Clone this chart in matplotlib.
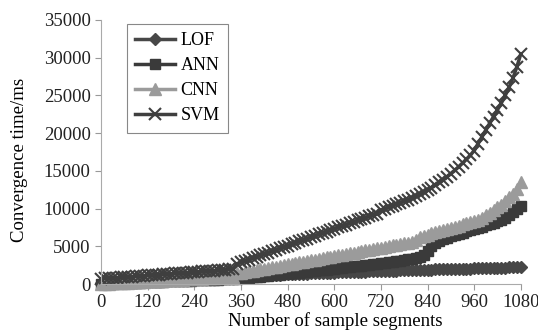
import matplotlib.pyplot as plt

# sample segments 0..1080, step 10
segments = list(range(0, 1090, 10))

lof = [150, 175, 200, 225, 250, 275, 300, 325, 350, 375, 400, 425, 450,
       475, 500, 525, 550, 575, 600, 625, 650, 675, 700, 725, 750,
       775, 800, 825, 850, 875, 900, 925, 950, 975, 1000, 1025, 1050,
       1070, 1090, 1110, 1130, 1150, 1170, 1190, 1210, 1230, 1250, 1275, 1300,
       1320, 1340, 1360, 1375, 1395, 1415, 1430, 1450, 1465, 1485, 1500, 1520,
       1540, 1555, 1575, 1590, 1610, 1625, 1645, 1660, 1680, 1695, 1715, 1730,
       1745, 1760, 1775, 1790, 1800, 1815, 1830, 1845, 1860, 1870, 1885, 1900,
       1915, 1930, 1940, 1955, 1970, 1985, 2000, 2010, 2025, 2040, 2055, 2070,
       2085, 2100, 2115, 2130, 2145, 2160, 2175, 2190, 2205, 2220, 2235, 2250]

ann = [0, 20, 40, 60, 80, 100, 120, 140, 160, 180, 200, 220, 240, 260, 280,
       300, 320, 340, 360, 380, 400, 420, 440, 460, 480, 500, 520, 540, 560,
       580, 600, 620, 640, 660, 680,
       700, 750, 800, 850, 900, 950, 1000, 1050, 1110, 1160, 1210, 1260, 1320,
       1370, 1420, 1480, 1530, 1590, 1640, 1700, 1750, 1810, 1860, 1920, 1980,
       2030, 2090, 2150, 2210, 2270, 2330, 2390, 2450, 2510, 2570, 2630, 2690,
       2750, 2820, 2890, 2960, 3030, 3100, 3180, 3260, 3340, 3430, 3520, 3800,
       4400, 5000, 5400, 5700, 5950, 6150, 6330, 6500, 6660, 6820, 6980, 7140,
       7300, 7460, 7620, 7790, 7960, 8140, 8330, 8540, 8780, 9100, 9500, 9950,
       10400]

cnn = [0, 30, 60, 90, 110, 140, 170, 200, 230, 250, 280, 310, 340, 370, 390,
       420, 450, 480, 510, 530, 560, 590, 620, 650, 670, 700, 730, 760, 790,
       810, 840, 870, 900, 930, 950,
       1400, 1490, 1580, 1680, 1770, 1860, 1950, 2050, 2140, 2230, 2320, 2420,
       2510, 2600, 2690, 2790, 2880, 2970, 3060, 3160, 3250, 3340, 3430, 3530,
       3620, 3710, 3800, 3900, 3990, 4080, 4170, 4270, 4360, 4450, 4540, 4640,
       4730, 4820, 4920, 5010, 5110, 5200, 5300, 5400, 5500, 5620, 5900, 6200,
       6400, 6550, 6700, 6850, 7000, 7150, 7300, 7450, 7600, 7750, 7900, 8050,
       8200, 8350, 8550, 8800, 9100, 9450, 9800, 10150, 10500, 11000, 11500,
       12000, 12600, 13500]

svm = [700, 740, 780, 820, 850, 890, 930, 960, 1000, 1040, 1080, 1110, 1150,
       1190, 1220, 1260, 1300, 1340, 1370, 1410, 1450, 1480, 1520, 1560, 1600,
       1630, 1670, 1710, 1740, 1780, 1820, 1860, 1890, 1930, 1970,
       2700, 2880, 3060, 3250, 3430, 3620, 3800, 3990, 4170, 4360, 4540, 4730,
       4910, 5100, 5280, 5470, 5650, 5840, 6020, 6210, 6390, 6580, 6760, 6950,
       7130, 7320, 7500, 7690, 7870, 8060, 8240, 8430, 8610, 8800, 8980, 9170,
       9350, 9800, 9990, 10190, 10390, 10590, 10790, 10990, 11190, 11400, 11650,
       11900, 12180, 12470, 12780, 13110, 13460, 13830, 14220, 14640, 15080,
       15540, 16020, 16520, 17040, 17700, 18600, 19500, 20400, 21300, 22200,
       23100, 24000, 25000, 26100, 27300, 28800, 30500]

x_ticks = [0, 120, 240, 360, 480, 600, 720, 840, 960, 1080]
y_ticks = [0, 5000, 10000, 15000, 20000, 25000, 30000, 35000]

plt.rcParams['font.family'] = ['Liberation Serif', 'DejaVu Serif']

fig = plt.figure(figsize=(5.38, 3.33), dpi=100)
ax = fig.add_axes([0.188, 0.147, 0.78, 0.793])

ax.plot(segments, lof, color='#474747', lw=2.5, marker='D', ms=6.5, label='LOF', clip_on=False)
ax.plot(segments, ann, color='#3a3a3a', lw=2.5, marker='s', ms=7, label='ANN', clip_on=False)
ax.plot(segments, cnn, color='#9b9b9b', lw=2.5, marker='^', ms=8.5, label='CNN', clip_on=False)
ax.plot(segments, svm, color='#3f3f3f', lw=2.5, marker='x', ms=8, mew=1.5, label='SVM', clip_on=False)

ax.set_xlim(0, 1080)
ax.set_ylim(0, 35000)
ax.set_xticks(x_ticks)
ax.set_yticks(y_ticks)
ax.tick_params(labelsize=13.5, colors='#222222', length=4, width=0.8)
ax.tick_params(axis='both', color='#999999')

for side in ['top', 'right']:
    ax.spines[side].set_visible(False)
for side in ['left', 'bottom']:
    ax.spines[side].set_color('#aaaaaa')
    ax.spines[side].set_linewidth(0.8)

ax.set_xlabel('Number of sample segments', fontsize=13.5)
ax.set_ylabel('Convergence time/ms', fontsize=13.5)
ax.xaxis.set_label_coords(0.557, -0.108)
ax.yaxis.set_label_coords(-0.175, 0.47)

leg = ax.legend(loc='upper left', bbox_to_anchor=(0.062, 0.985), borderaxespad=0,
                fontsize=13, labelspacing=0.45, handlelength=2.2, handletextpad=0.3,
                fancybox=False, edgecolor='#888888', framealpha=1, borderpad=0.45)
leg.get_frame().set_linewidth(0.8)

fig.savefig('out.png', dpi=100)
